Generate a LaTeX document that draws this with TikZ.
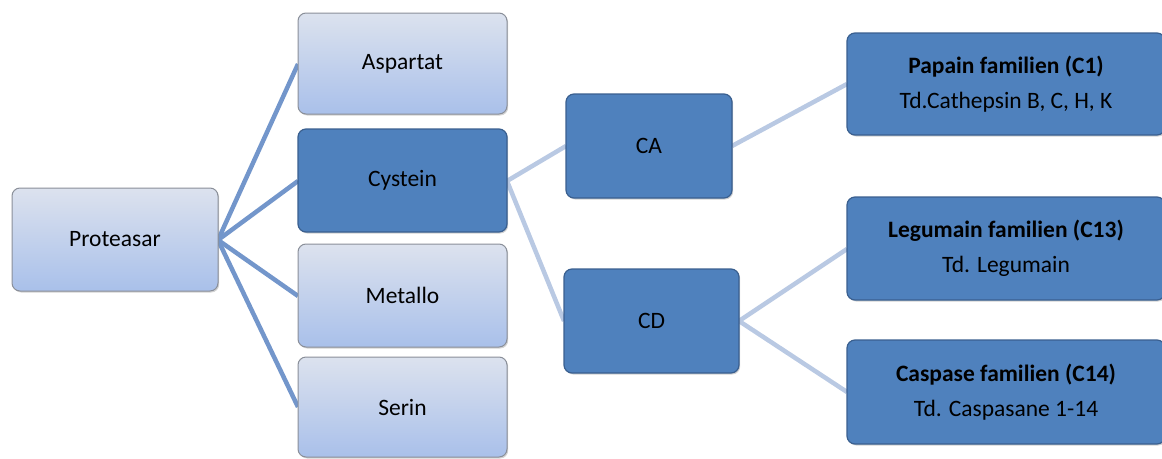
\documentclass[tikz,border=0pt]{standalone}
\usepackage{fontspec}
\setmainfont{Carlito}
\usetikzlibrary{shadows}

\definecolor{darkfill}{HTML}{4F81BD}
\definecolor{darkline}{HTML}{3A5F8F}
\definecolor{lighttop}{HTML}{DCE2EE}
\definecolor{lightbot}{HTML}{A9C0EA}
\definecolor{lightline}{HTML}{8A8F99}
\definecolor{linkone}{HTML}{7396CB}
\definecolor{linktwo}{HTML}{B9C9E3}

\tikzset{
  box/.style={rectangle, rounded corners=8pt, inner sep=0pt, align=center,
    font=\fontsize{23.5}{35}\selectfont,
    drop shadow={shadow xshift=1.2pt, shadow yshift=-1.5pt, opacity=0.35}},
  lightbox/.style={box, draw=lightline, line width=1pt, top color=lighttop, bottom color=lightbot},
  darkbox/.style={box, draw=darkline, line width=1.2pt, fill=darkfill},
  linkA/.style={draw=linkone, line width=4.5pt},
  linkB/.style={draw=linktwo, line width=4.5pt}
}

\begin{document}
\begin{tikzpicture}[x=1pt, y=-1pt]
			%%%%% START %%%%%
			\useasboundingbox (0, 0) rectangle (1162, 458);

			% connectors first, boxes on top
			\coordinate (protR) at (218, 240);
			\coordinate (cysR) at (507, 181);
			\coordinate (caR) at (732, 146);
			\coordinate (cdR) at (739, 321);

			\draw[linkA] (protR) -- (298, 64);
			\draw[linkA] (protR) -- (298, 181);
			\draw[linkA] (protR) -- (298, 296);
			\draw[linkA] (protR) -- (298, 407);

			\draw[linkB] (cysR) -- (566, 146);
			\draw[linkB] (cysR) -- (564, 321);
			\draw[linkB] (caR) -- (847, 84);
			\draw[linkB] (cdR) -- (847, 249);
			\draw[linkB] (cdR) -- (847, 392);

			\node[lightbox, minimum width=206pt, minimum height=103pt] (prot) at (115, 239.5) {Proteasar};

			\node[lightbox, minimum width=209pt, minimum height=101pt] (asp) at (402.5, 63.5) {Aspartat};
			\node[darkbox, minimum width=209pt, minimum height=103pt] (cys) at (402.5, 180.5) {Cystein};
			\node[lightbox, minimum width=209pt, minimum height=103pt] (met) at (402.5, 295.5) {Metallo};
			\node[lightbox, minimum width=209pt, minimum height=100pt] (ser) at (402.5, 407) {Serin};

			\node[darkbox, minimum width=166pt, minimum height=104pt] (ca) at (649, 146) {CA};
			\node[darkbox, minimum width=175pt, minimum height=104pt] (cd) at (651.5, 321) {CD};

			\node[darkbox, minimum width=318pt, minimum height=102pt] (pap) at (1006, 84)
			  {\textbf{Papain familien (C1)}\\Td.Cathepsin B, C, H, K};
			\node[darkbox, minimum width=318pt, minimum height=103pt] (leg) at (1006, 248.5)
			  {\textbf{Legumain familien (C13)}\\Td. Legumain};
			\node[darkbox, minimum width=318pt, minimum height=104pt] (cas) at (1006, 392)
			  {\textbf{Caspase familien (C14)}\\Td. Caspasane 1-14};
			%%%%% END %%%%%
\end{tikzpicture}
\end{document}
